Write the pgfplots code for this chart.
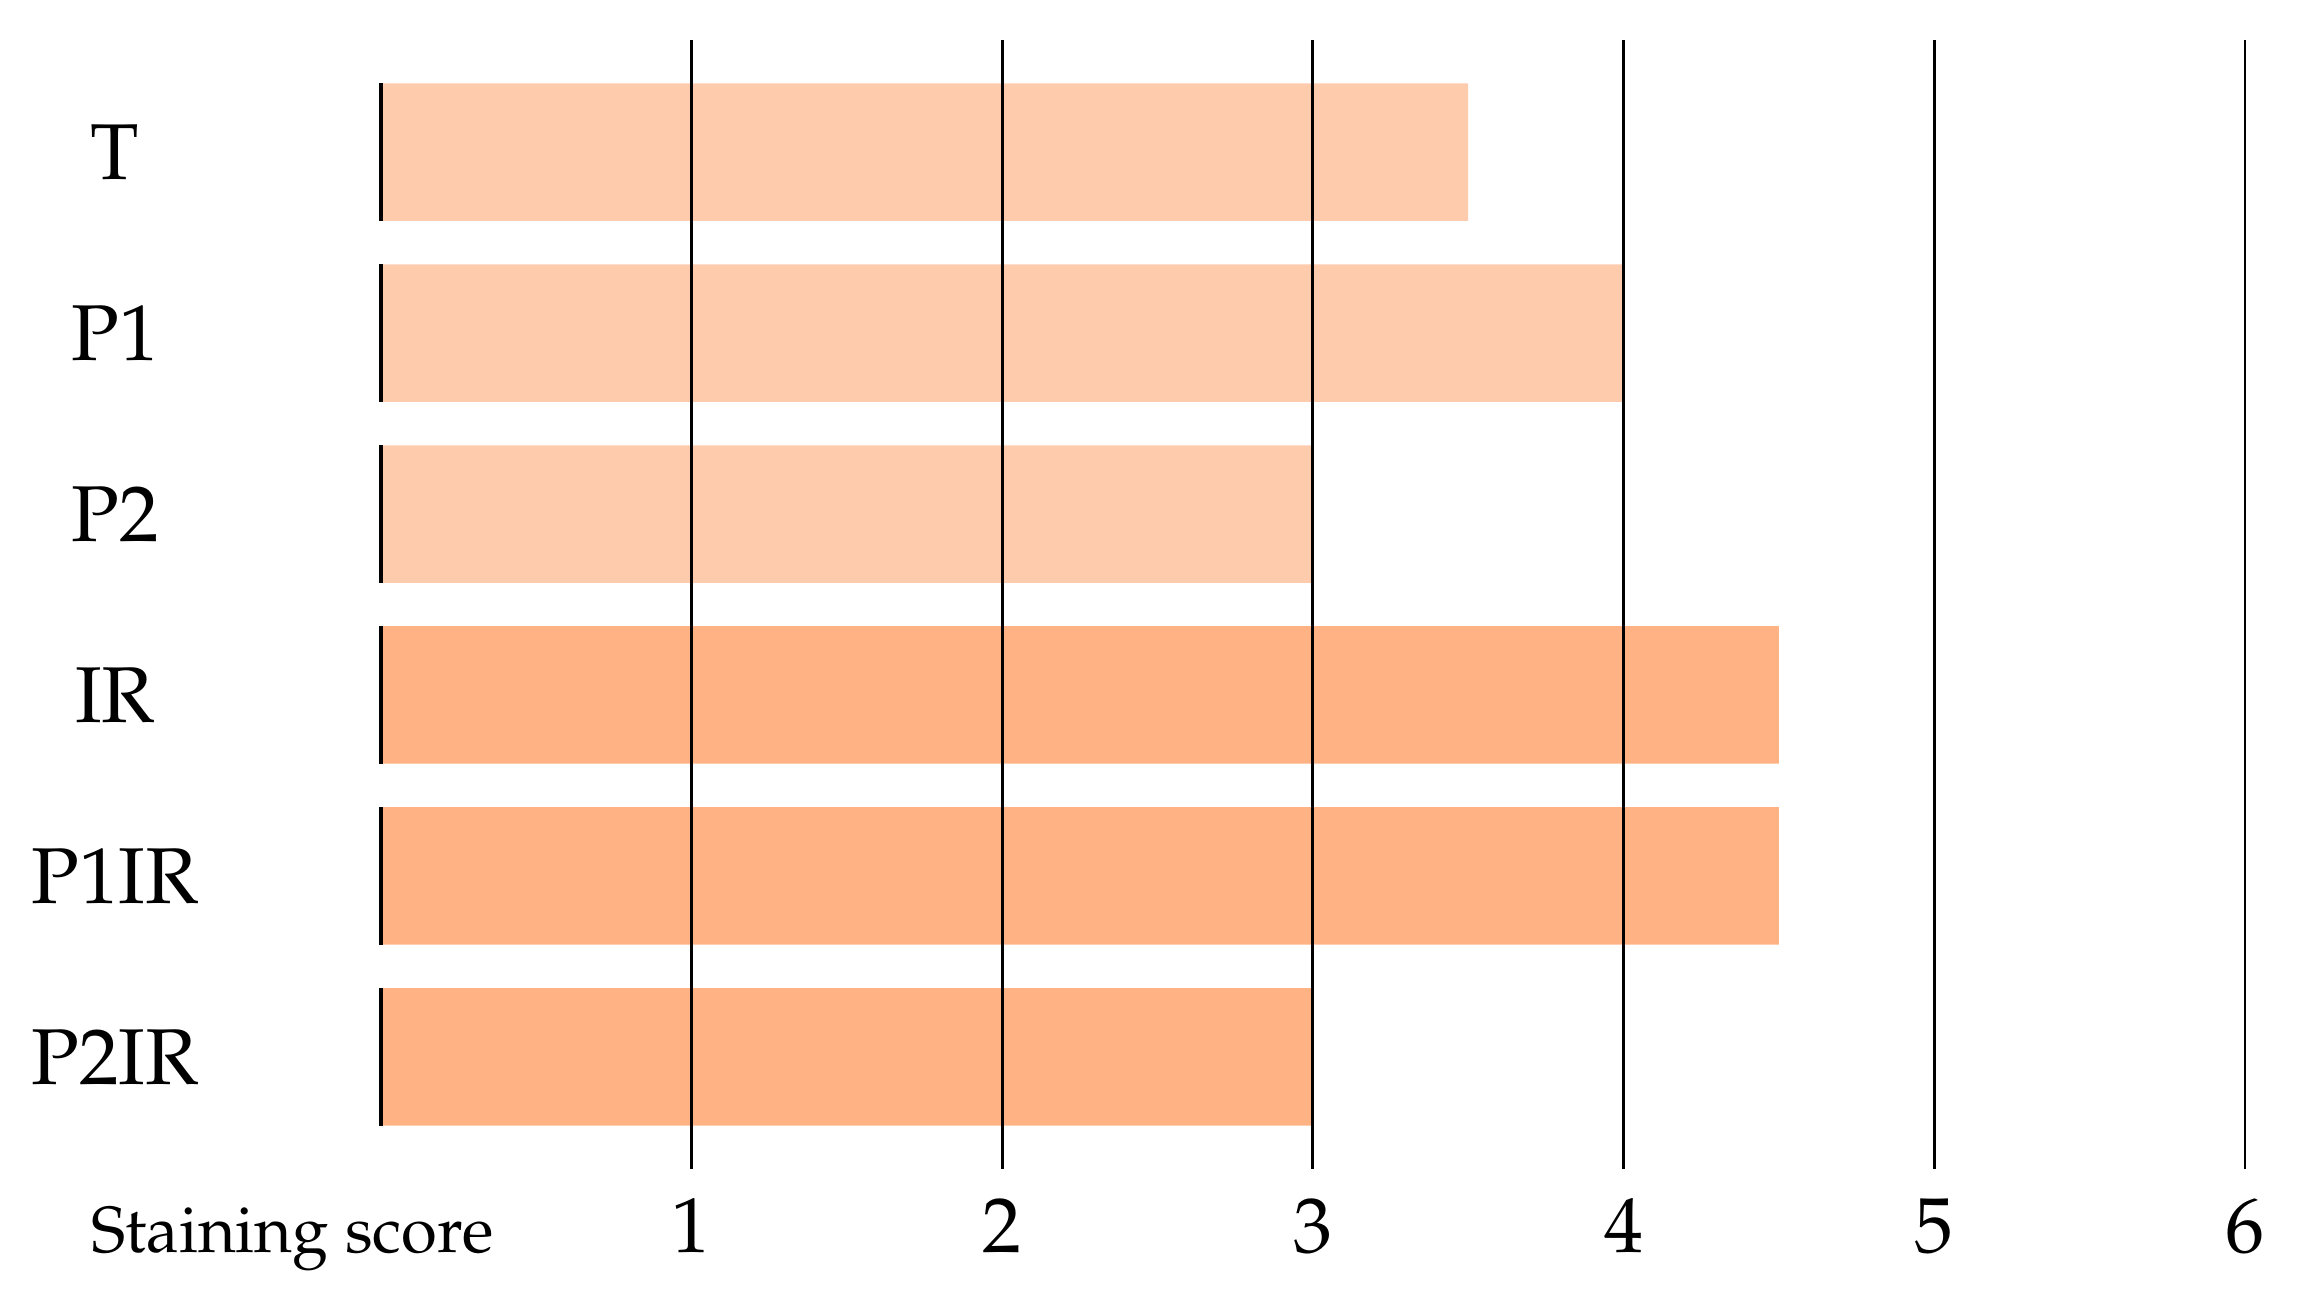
\documentclass[border=0pt]{standalone}
\usepackage[T1]{fontenc}
\usepackage{mathpazo}
\usepackage{pgfplots}
\pgfplotsset{compat=1.18}
\definecolor{lightbar}{HTML}{FFCBAD}
\definecolor{darkbar}{HTML}{FFB385}
\begin{document}
\begin{tikzpicture}
\begin{axis}[
  scale only axis,
  width=466.5pt, height=282.5pt,
  xmin=0, xmax=6,
  ymin=-0.62, ymax=5.62,
  y dir=reverse,
  clip=false,
  axis line style={draw=none},
  major tick length=0pt,
  xtick={1,2,3,4,5,6},
  ytick={0,1,2,3,4,5},
  yticklabels={T,P1,P2,IR,P1IR,P2IR},
  xmajorgrids,
  grid style={black, line width=0.7pt},
  axis on top,
  xticklabel style={anchor=base, yshift=-21pt, font=\fontsize{19.5}{22}\selectfont},
  yticklabel style={anchor=center, xshift=-66.5pt, font=\fontsize{19.8}{23}\selectfont},
  xlabel={Staining score},
  xlabel style={at={(axis description cs:-0.0475,0)}, anchor=base, yshift=-21pt, font=\fontsize{16.3}{19}\selectfont},
]
\addplot[xbar, bar width=0.76, bar shift=0pt, fill=lightbar, draw=none] coordinates {(3.5,0) (4,1) (3,2)};
\addplot[xbar, bar width=0.76, bar shift=0pt, fill=darkbar, draw=none] coordinates {(4.5,3) (4.5,4) (3,5)};
\addplot[black, line width=1pt] coordinates {(0,-0.38) (0,0.38)};
\addplot[black, line width=1pt] coordinates {(0,0.62) (0,1.38)};
\addplot[black, line width=1pt] coordinates {(0,1.62) (0,2.38)};
\addplot[black, line width=1pt] coordinates {(0,2.62) (0,3.38)};
\addplot[black, line width=1pt] coordinates {(0,3.62) (0,4.38)};
\addplot[black, line width=1pt] coordinates {(0,4.62) (0,5.38)};
\end{axis}
\pgfresetboundingbox
\path (current axis.south west) ++(-95.25pt,-34.5pt) coordinate (bbsw);
\path (current axis.north east) ++(15.75pt,10pt) coordinate (bbne);
\useasboundingbox (bbsw) rectangle (bbne);
\end{tikzpicture}
\end{document}
